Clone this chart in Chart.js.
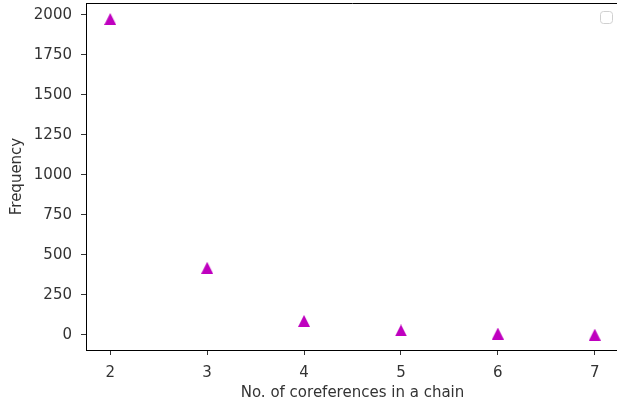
<!DOCTYPE html>
<html>
<head>
<meta charset="utf-8">
<script src="https://cdn.jsdelivr.net/npm/chart.js@4"></script>
<style>
  html, body { margin: 0; padding: 0; background: #fff; overflow: hidden; }
  #wrap { width: 620px; height: 404px; }
</style>
</head>
<body>
<div id="wrap"><canvas id="myChart" width="620" height="404"></canvas></div>
<script>
const chainLengths = [2, 3, 4, 5, 6, 7];
const frequencies = [1975, 420, 88, 28, 9, 2];
const yTicks = [0, 250, 500, 750, 1000, 1250, 1500, 1750, 2000];

// matplotlib-like '^' marker: width equal to height, centred on the point
function makeTriangle(size, color) {
  const c = document.createElement('canvas');
  c.width = size;
  c.height = size;
  const g = c.getContext('2d');
  g.fillStyle = color;
  g.beginPath();
  g.moveTo(size / 2, 0);
  g.lineTo(size, size);
  g.lineTo(0, size);
  g.closePath();
  g.fill();
  return c;
}

// top and right spines plus the empty legend box
const frame = {
  id: 'frame',
  afterDraw(chart) {
    const ctx = chart.ctx;
    const a = chart.chartArea;
    ctx.save();
    ctx.strokeStyle = '#000';
    ctx.lineWidth = 1;
    ctx.beginPath();
    ctx.moveTo(a.left, a.top + 0.5);
    ctx.lineTo(a.right, a.top + 0.5);
    ctx.lineTo(a.right - 0.5, a.bottom);
    ctx.stroke();
    ctx.strokeStyle = '#d0d0d0';
    ctx.beginPath();
    ctx.roundRect(600.5, 11.5, 12, 12, 3);
    ctx.stroke();
    ctx.restore();
  }
};

const font = { family: 'DejaVu Sans', size: 15 };

const ctx = document.getElementById('myChart').getContext('2d');
const myChart = new Chart(ctx, {
  type: 'scatter',
  data: {
    datasets: [{
      data: chainLengths.map((x, i) => ({ x: x, y: frequencies[i] })),
      pointStyle: makeTriangle(12, '#bf00bf'),
      pointRadius: 6,
      pointHoverRadius: 6
    }]
  },
  options: {
    responsive: false,
    animation: false,
    layout: { autoPadding: false, padding: { top: 3, right: 1, left: 0, bottom: 0 } },
    plugins: { legend: { display: false }, tooltip: { enabled: false } },
    scales: {
      x: {
        type: 'linear',
        min: 1.75,
        max: 7.25,
        afterBuildTicks: axis => { axis.ticks = chainLengths.map(v => ({ value: v })); },
        afterFit: axis => {
          axis.height = 54;
          axis.paddingLeft = 0;
          axis.paddingRight = 0;
        },
        grid: { drawOnChartArea: false, drawTicks: true, tickLength: 5, color: '#000', tickWidth: 0.8 },
        border: { display: true, color: '#000', width: 1 },
        ticks: { color: '#333', font: font, padding: 9, callback: v => String(v) },
        title: { display: true, text: 'No. of coreferences in a chain', color: '#333', font: font, padding: { top: 0, bottom: 2 } }
      },
      y: {
        type: 'linear',
        min: -94,
        max: 2075,
        afterBuildTicks: axis => { axis.ticks = yTicks.map(v => ({ value: v })); },
        afterFit: axis => {
          axis.width = 86;
          axis.paddingTop = 0;
          axis.paddingBottom = 0;
        },
        grid: { drawOnChartArea: false, drawTicks: true, tickLength: 5, color: '#000', tickWidth: 0.8 },
        border: { display: true, color: '#000', width: 1 },
        ticks: { color: '#333', font: font, padding: 9, callback: v => String(v) },
        title: { display: true, text: 'Frequency', color: '#333', font: font, padding: { top: 8, bottom: 0 } }
      }
    }
  },
  plugins: [frame]
});
</script>
</body>
</html>
